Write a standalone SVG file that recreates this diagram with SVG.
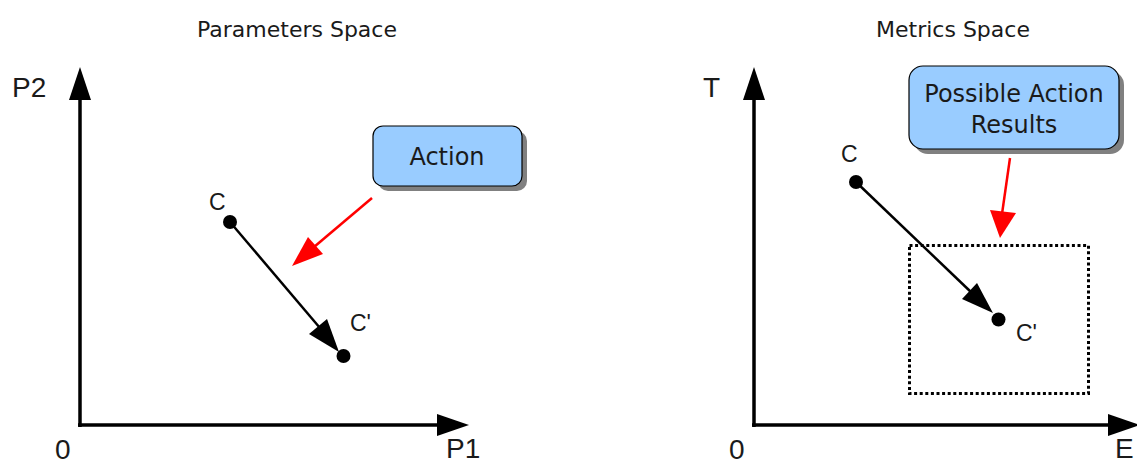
<svg xmlns="http://www.w3.org/2000/svg" width="1137" height="465" viewBox="0 0 1137 465">
<style>
.title{font-family:"DejaVu Sans",sans-serif;font-size:22px;fill:#1a1a1a;text-anchor:middle}
.axlbl{font-family:"Liberation Sans",Arial,sans-serif;font-size:28px;fill:#1a1a1a}
.pt{font-family:"Liberation Sans",Arial,sans-serif;font-size:23px;fill:#1a1a1a}
.boxtxt{font-family:"DejaVu Sans",sans-serif;font-size:24px;fill:#1a1a1a;text-anchor:middle}
.axis{stroke:#000;stroke-width:3.5;fill:none}
.blk{stroke:#000;stroke-width:2.5;fill:none}
.red{stroke:#ff0000;stroke-width:2.5;fill:none}
.box{fill:#99ccff;stroke:#000;stroke-width:1.2}
.shadow{fill:#808080}
</style>
<g id="left-panel">
  <text class="title" x="297" y="37">Parameters Space</text>
  <g id="left-axes">
    <line class="axis" x1="80" y1="427" x2="80" y2="98"/>
    <polygon points="80,67 69,100 91,100" fill="#000"/>
    <line class="axis" x1="78" y1="425" x2="439" y2="425"/>
    <polygon points="469,425 437,414 437,436" fill="#000"/>
    <text class="axlbl" x="12" y="97">P2</text>
    <text class="axlbl" x="55" y="459">0</text>
    <text class="axlbl" x="446" y="458">P1</text>
  </g>
  <g id="left-C">
    <circle cx="230" cy="222" r="7" fill="#000"/>
    <text class="pt" x="209" y="210">C</text>
  </g>
  <g id="left-Cprime">
    <circle cx="343.5" cy="356" r="7" fill="#000"/>
    <text class="pt" x="350" y="331">C'</text>
  </g>
  <g id="action">
    <rect class="shadow" x="378" y="131" width="149" height="60" rx="10"/>
    <rect class="box" x="373" y="126" width="149" height="60" rx="10"/>
    <text class="boxtxt" x="447" y="165">Action</text>
  </g>
</g>
<g id="right-panel">
  <text class="title" x="953" y="37">Metrics Space</text>
  <g id="right-axes">
    <line class="axis" x1="754" y1="427" x2="754" y2="98"/>
    <polygon points="754,67 743,100 765,100" fill="#000"/>
    <line class="axis" x1="752" y1="425" x2="1110" y2="425"/>
    <polygon points="1140,425 1108,414 1108,436" fill="#000"/>
    <text class="axlbl" x="703" y="97">T</text>
    <text class="axlbl" x="729" y="459">0</text>
    <text class="axlbl" x="1115" y="458">E</text>
  </g>
  <g id="right-C">
    <circle cx="856" cy="182" r="7" fill="#000"/>
    <text class="pt" x="841" y="162">C</text>
  </g>
  <g id="right-Cprime">
    <circle cx="998.5" cy="319.5" r="7" fill="#000"/>
    <text class="pt" x="1016" y="341">C'</text>
  </g>
  <g id="results-region">
    <rect x="909.5" y="245.5" width="179" height="148" fill="none" stroke="#000" stroke-width="3" stroke-dasharray="3 2.6"/>
  </g>
  <g id="possible-results">
    <rect class="shadow" x="914" y="71" width="210" height="83" rx="14"/>
    <rect class="box" x="909" y="66" width="210" height="83" rx="14"/>
    <text class="boxtxt" x="1014" y="102">Possible Action</text>
    <text class="boxtxt" x="1014" y="133">Results</text>
  </g>
</g>
<g id="connectors">
  <line class="blk" x1="230" y1="222" x2="320" y2="328"/>
  <polygon points="339,352 309,334 327,319" fill="#000"/>
  <line class="red" x1="372" y1="198" x2="314" y2="247"/>
  <polygon points="292,266 308,237 323,254" fill="#ff0000"/>
  <line class="blk" x1="856" y1="182" x2="972" y2="293"/>
  <polygon points="993,313 962,299 977,283" fill="#000"/>
  <line class="red" x1="1010" y1="158" x2="1002" y2="214"/>
  <polygon points="1000,238 990,210 1016,213" fill="#ff0000"/>
</g>
</svg>
